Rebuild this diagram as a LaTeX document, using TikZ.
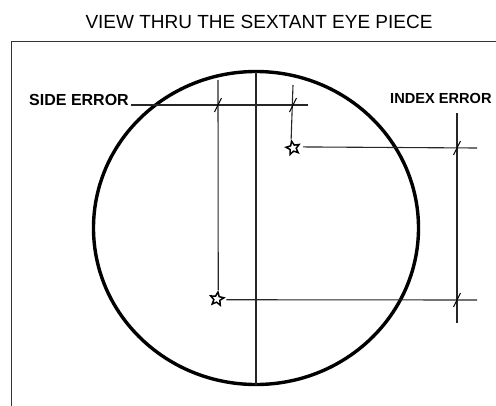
\documentclass[tikz,border=0pt]{standalone}
\usepackage{fontspec}
\setmainfont{Liberation Sans}
\usetikzlibrary{shapes.geometric}
\newcommand{\errtick}[1]{\draw[tickmark] (#1) ++(-3.5,7) -- ++(7,-14);}

\begin{document}
\begin{tikzpicture}[
    x=1pt, y=-1pt,
    thinline/.style={line width=1.1pt, black!85},
    tickmark/.style={line width=1pt, black},
    sight/.style={star, star points=5, star point ratio=2.2, draw, line width=1.5pt,
                  minimum size=14pt, inner sep=0pt, rotate=12},
    errlabel/.style={font=\bfseries\fontsize{16}{18}\selectfont, inner sep=0pt}
]
    \useasboundingbox (0,0) rectangle (496,405);
    % title and eyepiece frame
    \node[font=\fontsize{19}{22}\selectfont, anchor=base, inner sep=0pt] (title) at (259,28)
        {VIEW THRU THE SEXTANT EYE PIECE};
    \draw[line width=1.4pt, black!80] (11.5,420) -- (11.5,41.5) -- (520,41.5);
    % field of view
    \draw[line width=3.4pt] (256,228) ellipse [x radius=162.5, y radius=156.5];
    \coordinate (top) at (256,71.5);
    \coordinate (bot) at (256,384.5);
    \draw[thinline] (top) -- (bot);

    % the two images of the star
    \node[sight] (star1) at (293,148) {};
    \node[sight, rotate=-20] (star2) at (217,299) {};

    % side error
    \node[errlabel, anchor=base east] (side) at (129,105) {SIDE ERROR};
    \coordinate (sideend) at (308,105);
    \coordinate (sidetop1) at (218,80);
    \coordinate (sidetop2) at (293,85);
    \draw[thinline] (side.base east) ++(2,0) -- (sideend);
    \draw[thinline] (sidetop1) -- (star2.north);
    \draw[thinline] (sidetop2) -- (star1.north);
    \errtick{218,105}
    \errtick{293,105}

    % index error
    \node[errlabel, font=\bfseries\fontsize{14.6}{17}\selectfont, anchor=base west] (index) at (390,103) {INDEX ERROR};
    \coordinate (idx1) at (477,148);
    \coordinate (idx2) at (477,300);
    \coordinate (idxtop) at (457,113);
    \coordinate (idxbot) at (457,323);
    \draw[thinline, shorten <=5pt] (star1.east) -- (idx1);
    \draw[thinline, shorten <=4pt] (star2.east) -- (idx2);
    \draw[thinline] (idxtop) -- (idxbot);
    \errtick{457,148}
    \errtick{457,300}
\end{tikzpicture}
\end{document}
